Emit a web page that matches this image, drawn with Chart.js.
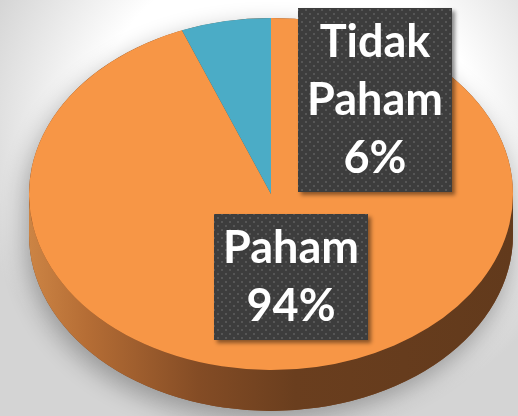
<!DOCTYPE html>
<html><head><meta charset="utf-8">
<script src="https://cdn.jsdelivr.net/npm/chart.js@4"></script>
<style>
html,body{margin:0;padding:0;width:518px;height:416px;overflow:hidden;}
body{background: radial-gradient(ellipse 62% 72% at 55% 32%, #ffffff 60%, #d4d4d4 100%);}
canvas{display:block;}
</style></head><body>
<canvas id="c" width="518" height="416"></canvas>
<script>
const categories = ['Paham', 'Tidak Paham'];
const values = [94, 6];
const sliceColors = ['#f79646', '#4bacc6'];

const pie3d = {
  id: 'pie3d',
  beforeDatasetsDraw(chart, args, o) {
    const ctx = chart.ctx;
    const arc = chart.getDatasetMeta(0).data[0];
    const p = arc.getProps(['x', 'y', 'outerRadius'], true);
    const {cx, cy, rx, ry, depth} = o;
    ctx.save();
    ctx.shadowColor = 'rgba(0,0,0,0.32)';
    ctx.shadowBlur = 24;
    ctx.shadowOffsetX = -3;
    ctx.shadowOffsetY = 9;
    ctx.beginPath();
    ctx.ellipse(cx, cy, rx, ry, 0, Math.PI, 2 * Math.PI, false);
    ctx.lineTo(cx + rx, cy + depth);
    ctx.ellipse(cx, cy + depth, rx, ry, 0, 0, Math.PI, false);
    ctx.closePath();
    ctx.fillStyle = '#7a4522';
    ctx.fill();
    ctx.restore();
    ctx.save();
    const g = ctx.createLinearGradient(cx - rx, 0, cx + rx, 0);
    g.addColorStop(0, '#cc8444');
    g.addColorStop(0.12, '#b56d35');
    g.addColorStop(0.35, '#844c25');
    g.addColorStop(0.55, '#6a3e1e');
    g.addColorStop(1, '#623a1c');
    ctx.beginPath();
    ctx.ellipse(cx, cy, rx, ry, 0, 0, Math.PI, false);
    ctx.lineTo(cx - rx, cy + depth);
    ctx.ellipse(cx, cy + depth, rx, ry, 0, Math.PI, 0, true);
    ctx.closePath();
    ctx.fillStyle = g;
    ctx.fill();
    ctx.restore();
    ctx.save();
    ctx.translate(cx, cy);
    ctx.scale(rx / p.outerRadius, ry / p.outerRadius);
    ctx.translate(-p.x, -p.y);
  },
  afterDatasetsDraw(chart) {
    chart.ctx.restore();
  }
};

function makePattern(ctx) {
  const pc = document.createElement('canvas');
  pc.width = 8; pc.height = 8;
  const c = pc.getContext('2d');
  c.fillStyle = '#3d3d3d';
  c.fillRect(0, 0, 8, 8);
  c.fillStyle = '#565656';
  c.fillRect(1, 1, 2, 2);
  c.fillRect(5, 5, 2, 2);
  return ctx.createPattern(pc, 'repeat');
}

const boxLabels = {
  id: 'boxLabels',
  afterDraw(chart, args, o) {
    const ctx = chart.ctx;
    const data = chart.data.datasets[0].data;
    const total = data.reduce((a, b) => a + b, 0);
    const pat = makePattern(ctx);
    chart.data.labels.forEach((lab, i) => {
      const lines = lab.split(' ').concat([Math.round(data[i] / total * 100) + '%']);
      const h = o.padTop + (lines.length - 1) * o.lineH + o.padBottom;
      const w = o.boxW;
      const c = o.centers[i];
      const x0 = c.x - w / 2, y0 = c.y - h / 2;
      ctx.save();
      ctx.shadowColor = 'rgba(0,0,0,0.45)';
      ctx.shadowBlur = 4;
      ctx.shadowOffsetX = 3;
      ctx.shadowOffsetY = 3;
      ctx.fillStyle = '#3d3d3d';
      ctx.fillRect(x0, y0, w, h);
      ctx.restore();
      ctx.save();
      ctx.fillStyle = pat;
      ctx.fillRect(x0, y0, w, h);
      ctx.fillStyle = '#ffffff';
      ctx.font = o.font;
      ctx.textAlign = 'center';
      ctx.textBaseline = 'alphabetic';
      lines.forEach((t, k) => {
        ctx.fillText(t, c.x, y0 + o.padTop + k * o.lineH);
      });
      ctx.restore();
    });
  }
};

function build() {
  new Chart(document.getElementById('c'), {
    type: 'pie',
    data: {
      labels: categories,
      datasets: [{
        data: values,
        backgroundColor: sliceColors,
        borderWidth: 0,
        clip: false
      }]
    },
    options: {
      responsive: false,
      devicePixelRatio: 1,
      animation: false,
      events: [],
      layout: {padding: 0},
      plugins: {
        legend: {display: false},
        tooltip: {enabled: false},
        pie3d: {cx: 271, cy: 194, rx: 242, ry: 176, depth: 41},
        boxLabels: {
          centers: [{x: 291, y: 277}, {x: 375, y: 100}],
          boxW: 154, padTop: 49, lineH: 58, padBottom: 19,
          font: 'bold 45px Lato'
        }
      }
    },
    plugins: [pie3d, boxLabels]
  });
}
if (document.fonts && document.fonts.load) {
  document.fonts.load('bold 45px Lato').then(build, build);
} else build();
</script>
</body></html>
